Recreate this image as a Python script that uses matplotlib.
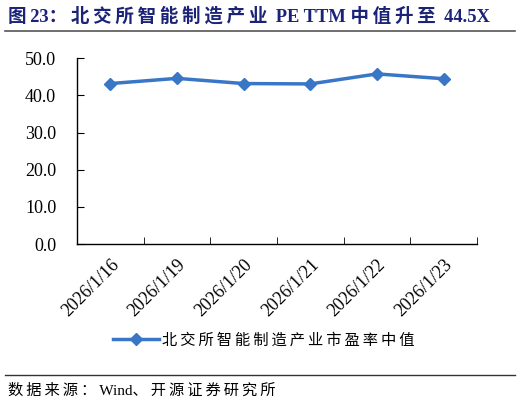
import matplotlib
matplotlib.use('Agg')
import matplotlib.pyplot as plt
from matplotlib.lines import Line2D

plt.rcParams['font.family'] = ['Liberation Serif', 'Noto Sans CJK SC', 'DejaVu Serif']

# data
dates = ['2026/1/16', '2026/1/19', '2026/1/20', '2026/1/21', '2026/1/22', '2026/1/23']
pe_median = [43.2, 44.6, 43.2, 43.1, 45.8, 44.5]
series_name = '北交所智能制造产业市盈率中值'
title = '图23：北交所智能制造产业 PE TTM 中值升至 44.5X'
source = '数据来源：Wind、开源证券研究所'


def spaced(s):
    # put a thin space after each CJK char to mimic the wider letter spacing
    out = ''
    for ch in s:
        out += ch
        if ord(ch) > 0x2E80:
            out += '\u2009'
    return out


fig = plt.figure(figsize=(5.22, 4.05), dpi=100)
ax = fig.add_axes([77/522, 1 - 244/405, 400/522, (244 - 58.3)/405])

x = list(range(len(dates)))
ax.plot(x, pe_median, color='#3a76c6', lw=2.5, marker='D', ms=6.5)

ax.set_xlim(-0.5, len(dates) - 0.5)
ax.set_ylim(0, 50)
ax.set_yticks([0, 10, 20, 30, 40, 50])
ax.set_yticklabels([f'{v:.1f}' for v in [0, 10, 20, 30, 40, 50]], fontsize=13)
ax.set_xticks(x)
ax.set_xticklabels(dates, rotation=45, ha='right', rotation_mode='anchor', fontsize=13)
ax.tick_params(axis='x', length=0, pad=9)
# boundary ticks between categories
ax.set_xticks([i + 0.5 for i in x], minor=True)
ax.tick_params(axis='x', which='minor', direction='in', length=5, color='black')
ax.tick_params(axis='y', direction='in', length=5, pad=15)
for s in ['top', 'right']:
    ax.spines[s].set_visible(False)
for s in ['left', 'bottom']:
    ax.spines[s].set_color('black')
    ax.spines[s].set_linewidth(1)

handle = Line2D([], [], color='#3a76c6', lw=2.5, marker='D', ms=6.5)
fig.legend([handle], [spaced(series_name)], loc='center left',
           bbox_to_anchor=(99/522, 1 - 340/405),
           frameon=False, handlelength=3.0, handletextpad=0.2,
           prop={'family': ['Liberation Serif', 'Noto Sans CJK SC'], 'size': 11})

fig.text(8/522, 1 - 16/405, spaced(title), fontsize=13.3, fontweight='bold', color='#1b2378',
         va='center', ha='left')
fig.add_artist(Line2D([5/522, 515/522], [1 - 31/405, 1 - 31/405], color='#555555', lw=1.2))
fig.add_artist(Line2D([5/522, 515/522], [1 - 375/405, 1 - 375/405], color='#333333', lw=1.0))
fig.text(8/522, 1 - 391/405, spaced(source), fontsize=11, va='center', ha='left')

fig.savefig('out.png', dpi=100)
